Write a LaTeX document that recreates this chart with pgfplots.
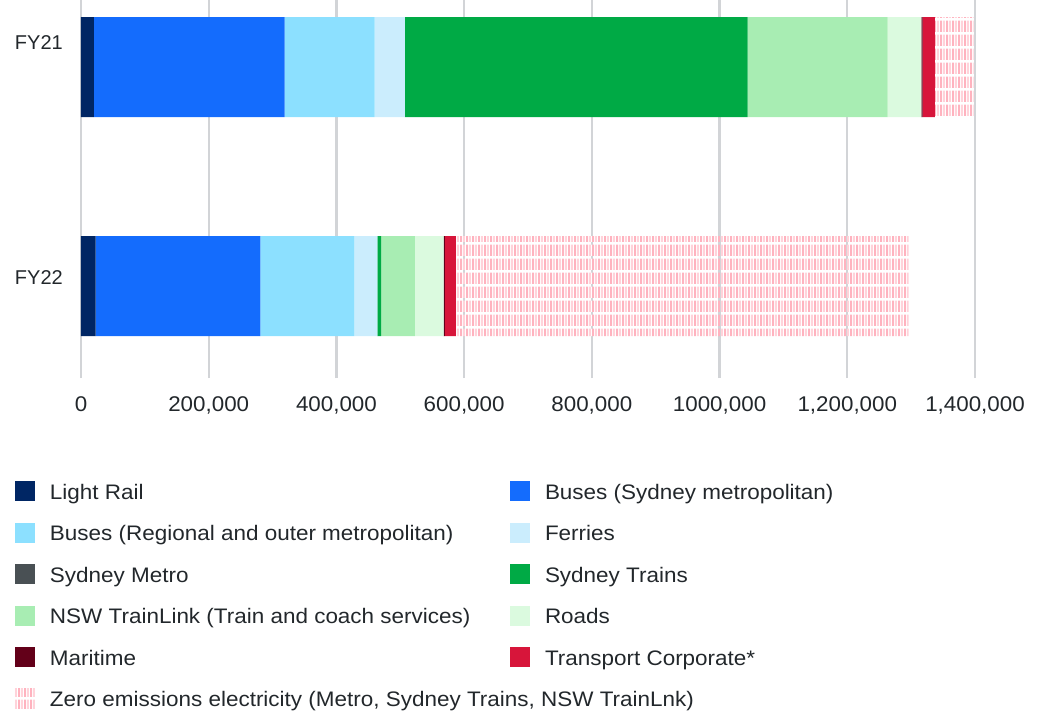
\documentclass[border=0pt]{standalone}
\usepackage{pgfplots}
\pgfplotsset{compat=1.18}
\usepackage{fontspec}
\setmainfont{Liberation Sans}
\newfontfamily\stretchfont[FakeStretch=1.07]{Liberation Sans}
\newfontfamily\tickfont[FakeStretch=1.05]{Liberation Sans}
\usetikzlibrary{patterns}
\definecolor{lrail}{HTML}{002664}
\definecolor{bsyd}{HTML}{146CFD}
\definecolor{breg}{HTML}{8CE0FF}
\definecolor{ferr}{HTML}{CBEDFD}
\definecolor{metro}{HTML}{495054}
\definecolor{trains}{HTML}{00AA45}
\definecolor{tlink}{HTML}{A8EDB3}
\definecolor{roads}{HTML}{DBFADF}
\definecolor{marit}{HTML}{630019}
\definecolor{tcorp}{HTML}{D7153A}
\definecolor{zpinkd}{HTML}{FFB3BF}
\definecolor{zpinkl}{HTML}{FFD3DA}
\definecolor{gridc}{HTML}{D2D4D7}
\definecolor{txt}{HTML}{22272B}
\pgfdeclarepatterninherentlycolored{zeroem}{\pgfpointorigin}{\pgfqpoint{6.4pt}{14.3pt}}{\pgfqpoint{6.4pt}{14.3pt}}{%
 \pgfsetfillcolor{zpinkd}\pgfpathrectangle{\pgfpointorigin}{\pgfqpoint{2pt}{11.8pt}}\pgfusepath{fill}%
 \pgfsetfillcolor{zpinkl}\pgfpathrectangle{\pgfqpoint{3.2pt}{0pt}}{\pgfqpoint{2pt}{11.8pt}}\pgfusepath{fill}}
\newcommand{\LE}[1]{\makebox[460pt][l]{#1}}
\begin{document}
\begin{tikzpicture}
\useasboundingbox (0pt,0pt) rectangle (1038pt,-711pt);
\begin{axis}[
  at={(81pt,-378pt)}, anchor=south west,
  scale only axis, width=894pt, height=378pt,
  xbar stacked, bar width=100pt,
  xmin=0, xmax=1400000, ymin=-0.42, ymax=1.306,
  axis line style={draw=none},
  xmajorgrids, grid style={draw=gridc, line width=2.2pt},
  major tick length=0pt,
  xtick pos=bottom, ytick pos=left,
  scaled x ticks=false,
  xtick={0,200000,400000,600000,800000,1000000,1200000,1400000},
  xticklabels={\mbox{0},\mbox{200,000},\mbox{400,000},\mbox{600,000},\mbox{800,000},\mbox{1000,000},\mbox{1,200,000},\mbox{1,400,000}},
  ytick={0.041,1.11}, yticklabels={\mbox{FY22},\mbox{FY21}},
  tick label style={text=txt, inner sep=0pt},
  xticklabel style={anchor=north, yshift=-18pt, font=\tickfont\fontsize{21.3}{25}\selectfont},
  yticklabel style={anchor=east, xshift=-18pt, font=\fontsize{20}{24}\selectfont},
  legend columns=2,
  legend cell align=left,
  legend image code/.code={\fill[#1,draw=none] (0pt,-7pt) rectangle (20pt,13pt);},
  legend style={at={(rel axis cs:0,0)}, anchor=north west, xshift=-66pt, yshift=-103pt,
    draw=none, fill=none, inner sep=0pt, outer sep=0pt,
    font=\stretchfont\fontsize{21}{25}\selectfont, text=txt,
    nodes={inner sep=0pt, text height=15pt, text depth=5pt},
    row sep=18.5pt,
    /tikz/every odd column/.append style={column sep=15pt},
    /tikz/every even column/.append style={column sep=0pt}},
]
\addplot[fill=lrail, draw=none] coordinates {(20000,1) (23000,0)};
\addlegendentry{\LE{Light Rail}}
\addplot[fill=bsyd, draw=none] coordinates {(299000,1) (258000,0)};
\addlegendentry{\LE{Buses (Sydney metropolitan)}}
\addplot[fill=breg, draw=none] coordinates {(141000,1) (147000,0)};
\addlegendentry{\LE{Buses (Regional and outer metropolitan)}}
\addplot[fill=ferr, draw=none] coordinates {(47000,1) (36000,0)};
\addlegendentry{\LE{Ferries}}
\addplot[fill=metro, draw=none] coordinates {(0,1) (0,0)};
\addlegendentry{\LE{Sydney Metro}}
\addplot[fill=trains, draw=none] coordinates {(537000,1) (6000,0)};
\addlegendentry{\LE{Sydney Trains}}
\addplot[fill=tlink, draw=none] coordinates {(219000,1) (53000,0)};
\addlegendentry{\LE{NSW TrainLink (Train and coach services)}}
\addplot[fill=roads, draw=none] coordinates {(53000,1) (45000,0)};
\addlegendentry{\LE{Roads}}
\addplot[fill=marit, draw=none] coordinates {(2000,1) (2000,0)};
\addlegendentry{\LE{Maritime}}
\addplot[fill=tcorp, draw=none] coordinates {(19000,1) (17000,0)};
\addlegendentry{\LE{Transport Corporate*}}
\addplot[pattern=zeroem, draw=none] coordinates {(61000,1) (709000,0)};
\addlegendentry{\LE{Zero emissions electricity (Metro, Sydney Trains, NSW TrainLnk)}}
\end{axis}
\end{tikzpicture}
\end{document}
